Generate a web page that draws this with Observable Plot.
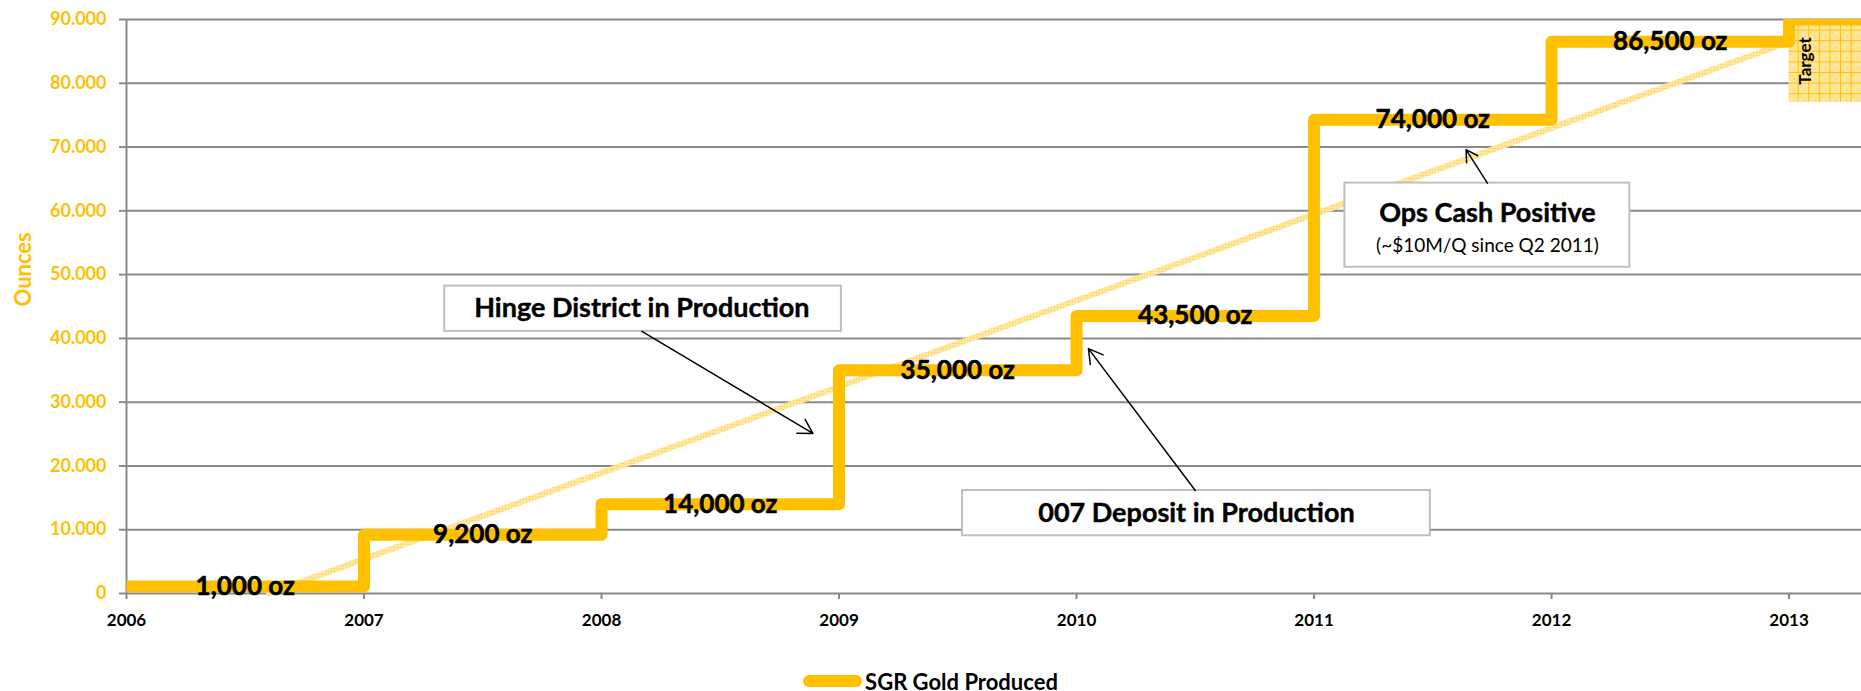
<!DOCTYPE html>
<html>
<head>
<meta charset="utf-8">
<script src="https://cdn.jsdelivr.net/npm/d3@7"></script>
<script src="https://cdn.jsdelivr.net/npm/@observablehq/plot@0.6"></script>
<style>
  html, body { margin: 0; padding: 0; background: #fff; overflow: hidden; }
  #chart svg { display: block; }
  #legend { display: flex; justify-content: center; align-items: center; height: 62px; font-family: Lato, sans-serif; }
  #legend .sw { flex: none; display: inline-block; width: 59px; height: 12px; border-radius: 6px; background: #FFC000; }
  #legend .lbl { flex: none; font-size: 22px; font-weight: bold; color: #000; margin-left: 3px; }
</style>
</head>
<body>
<div id="chart"></div>
<div id="legend"><span class="sw"></span><span class="lbl">SGR Gold Produced</span></div>
<script>
// ---- data ----
const years = [2006, 2007, 2008, 2009, 2010, 2011, 2012, 2013, 2014];
const ounces = [1100, 9200, 14000, 35000, 43500, 74300, 86500, 90000, 90000];
const stepLabels = ["1,000 oz", "9,200 oz", "14,000 oz", "35,000 oz", "43,500 oz", "74,000 oz", "86,500 oz"];
const trendYears = [2006.6, 2013];
const trendOunces = [0, 86500];
const xTicks = [2006, 2007, 2008, 2009, 2010, 2011, 2012, 2013];
const yTicks = [0, 10000, 20000, 30000, 40000, 50000, 60000, 70000, 80000, 90000];
const targetRange = [{x1: 2013, x2: 2014, y1: 77000, y2: 90000}];
const targetLabel = [{x: 2013.07, y: 83500, text: "Target"}];
const noteBoxes = [
  {x1: 2007.34, x2: 2009.01, y1: 41100, y2: 48200},
  {x1: 2009.52, x2: 2011.49, y1: 9050, y2: 16150},
  {x1: 2011.13, x2: 2012.33, y1: 51150, y2: 64350}
];
const noteTitles = [
  {x: 2008.17, y: 44650, text: "Hinge District in Production"},
  {x: 2010.505, y: 12500, text: "007 Deposit in Production"},
  {x: 2011.73, y: 59600, text: "Ops Cash Positive"}
];
const noteSubs = [{x: 2011.73, y: 54550, text: "(~$10M/Q since Q2 2011)"}];
const noteArrows = [
  {x1: 2008.17, y1: 41100, x2: 2008.89, y2: 25100},
  {x1: 2010.50, y1: 16150, x2: 2010.05, y2: 38400},
  {x1: 2011.73, y1: 64350, x2: 2011.64, y2: 69600}
];

const stepData = years.map((y, i) => ({year: y, oz: ounces[i]}));
const labelData = stepLabels.map((t, i) => ({x: years[i] + 0.5, y: ounces[i], text: t}));
const trendData = trendYears.map((y, i) => ({year: y, oz: trendOunces[i]}));

const dotFmt = d3.formatLocale({decimal: ",", thousands: ".", grouping: [3], currency: ["", ""]}).format(",");

const gold = "#FFC000";
const gray = "#898989";

const chart = Plot.plot({
  width: 1861,
  height: 650,
  marginLeft: 126,
  marginRight: 0,
  marginTop: 19,
  marginBottom: 57,
  style: {fontFamily: "Lato, sans-serif", background: "#fff"},
  x: {domain: [2006, 2013.305], label: null},
  y: {domain: [0, 90000], label: null},
  marks: [
    Plot.gridY(yTicks, {stroke: gray, strokeOpacity: 1, strokeWidth: 2}),
    Plot.axisY(yTicks, {tickSize: 7, tickPadding: 13, stroke: gray, strokeWidth: 2, fill: gold,
      fontSize: 18, fontWeight: "bold", tickFormat: d => d === 0 ? "0" : dotFmt(d), label: null}),
    Plot.axisX(xTicks, {tickSize: 6, tickPadding: 14, stroke: gray, strokeWidth: 2, fill: "#000",
      fontSize: 17, fontWeight: "bold", tickFormat: d => String(d), label: null}),
    Plot.ruleX([2006], {stroke: gray, strokeWidth: 2}),
    Plot.text(["Ounces"], {frameAnchor: "left", dx: -103, rotate: -90, fontSize: 22, fontWeight: "bold", fill: gold}),
    Plot.rect(targetRange, {x1: "x1", x2: "x2", y1: "y1", y2: "y2", fill: "url(#targetPat)", clip: true}),
    Plot.line(trendData, {x: "year", y: "oz", stroke: "url(#trendPat)", strokeWidth: 6}),
    Plot.line(stepData, {x: "year", y: "oz", curve: "step-after", stroke: gold, strokeWidth: 12,
      strokeLinejoin: "round", strokeLinecap: "butt", clip: true}),
    Plot.text(targetLabel, {x: "x", y: "y", text: "text", rotate: -90, fontSize: 17, fontWeight: "bold", fill: "#000"}),
    Plot.text(labelData, {x: "x", y: "y", text: "text", fontSize: 26, fontWeight: "bold", fill: "#000",
      stroke: "#000", strokeWidth: 0.5}),
    Plot.rect(noteBoxes, {x1: "x1", x2: "x2", y1: "y1", y2: "y2", fill: "#fff", stroke: "#BFBFBF", strokeWidth: 2}),
    Plot.arrow(noteArrows, {x1: "x1", y1: "y1", x2: "x2", y2: "y2", stroke: "#000", strokeWidth: 1.5, headLength: 16}),
    Plot.text(noteTitles, {x: "x", y: "y", text: "text", fontSize: 27, fontWeight: "bold", fill: "#000",
      stroke: "#000", strokeWidth: 0.4}),
    Plot.text(noteSubs, {x: "x", y: "y", text: "text", fontSize: 19, fill: "#000"})
  ]
});

// patterns for hatched trend line and target zone
const ns = "http://www.w3.org/2000/svg";
const defs = document.createElementNS(ns, "defs");
defs.innerHTML = `
  <pattern id="trendPat" patternUnits="userSpaceOnUse" width="3" height="3">
    <rect width="3" height="3" fill="#FFF0C0"/>
    <rect width="2" height="2" fill="#FFD45C"/>
  </pattern>
  <pattern id="targetPat" patternUnits="userSpaceOnUse" width="10.6" height="10.6" x="1787" y="19">
    <rect width="10.6" height="10.6" fill="#FFE699"/>
    <rect x="2" y="2" width="2" height="2" fill="#FFDA70"/>
    <rect x="6" y="6" width="2" height="2" fill="#FFDA70"/>
    <path d="M0 0.5H10.6M0.5 0V10.6" stroke="#FFC000" stroke-width="1"/>
  </pattern>`;
chart.insertBefore(defs, chart.firstChild);
document.getElementById("chart").appendChild(chart);
</script>
</body>
</html>
